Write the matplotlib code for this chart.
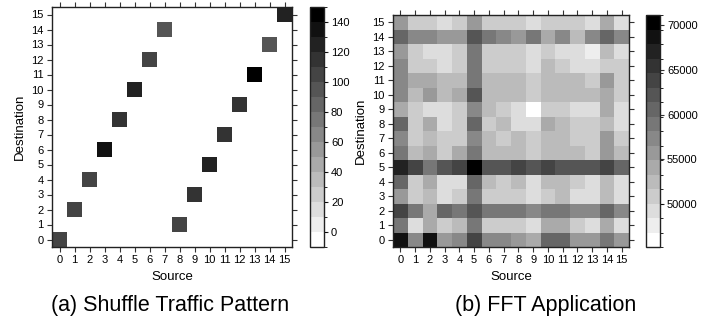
import numpy as np
import matplotlib
matplotlib.use("Agg")
import matplotlib.pyplot as plt
from matplotlib.colors import ListedColormap, BoundaryNorm

plt.rcParams['font.family'] = ['Liberation Sans', 'DejaVu Sans']

# ---------------- data ----------------
nodes = list(range(16))
tick_labels = [str(i) for i in nodes]

# Shuffle traffic: source -> destination and traffic amount
shuffle_src = [0, 1, 2, 3, 4, 5, 6, 7, 8, 9, 10, 11, 12, 13, 14, 15]
shuffle_dst = [0, 2, 4, 6, 8, 10, 12, 14, 1, 3, 5, 7, 9, 11, 13, 15]
shuffle_val = [105, 105, 103, 135, 115, 125, 108, 95, 105, 115, 125, 115, 115, 145, 95, 125]

# FFT application traffic, rows = destination 0..15, columns = source 0..15
fft_rows = [
    [69100, 57600, 69100, 56000, 57600, 63100, 57600, 57600, 56000, 54300, 60800, 60800, 56000, 56000, 59200, 56000],  # dst 0
    [59200, 49500, 54300, 51100, 52700, 59200, 51100, 51100, 51100, 49500, 54300, 54300, 51100, 49500, 54300, 49500],  # dst 1
    [63100, 59200, 54300, 60800, 59200, 62300, 59200, 59200, 59200, 57600, 59200, 59200, 57600, 57600, 60800, 57600],  # dst 2
    [56000, 51100, 52700, 49500, 51100, 59200, 51100, 51100, 51100, 49500, 51100, 52700, 49500, 49500, 52700, 49500],  # dst 3
    [60800, 51100, 54300, 49500, 49500, 60800, 52700, 51100, 52700, 49500, 52700, 52700, 51100, 49500, 52700, 49500],  # dst 4
    [66700, 63100, 59200, 62300, 63100, 70300, 62300, 62300, 63100, 62300, 63100, 62300, 62300, 62300, 63100, 60800],  # dst 5
    [59200, 52700, 54300, 51100, 54300, 59200, 52700, 52700, 52700, 51100, 52700, 52700, 52700, 51100, 56000, 52700],  # dst 6
    [57600, 51100, 52700, 51100, 51100, 57600, 52700, 51100, 52700, 51100, 52700, 52700, 51100, 51100, 56000, 51100],  # dst 7
    [60800, 51100, 54300, 49500, 51100, 60800, 51100, 52700, 49500, 49500, 54300, 52700, 51100, 51100, 52700, 49500],  # dst 8
    [54300, 51100, 49500, 49500, 51100, 57600, 52700, 51100, 49500, 46800, 51100, 51100, 49500, 49500, 54300, 49500],  # dst 9
    [57600, 52700, 56000, 52700, 54300, 62300, 52700, 52700, 52700, 51100, 52700, 52700, 52700, 52700, 54300, 51100],  # dst 10
    [57600, 54300, 54300, 52700, 52700, 59200, 52700, 52700, 52700, 51100, 52700, 52700, 52700, 51100, 56000, 51100],  # dst 11
    [57600, 51100, 51100, 49500, 51100, 59200, 51100, 51100, 51100, 49500, 52700, 51100, 49500, 49500, 51100, 51100],  # dst 12
    [56000, 51100, 49500, 49500, 51100, 59200, 51100, 51100, 51100, 49500, 51100, 49500, 49500, 47900, 52700, 49500],  # dst 13
    [60800, 57600, 57600, 56000, 56000, 62300, 59200, 57600, 56000, 59200, 54300, 57600, 52700, 57600, 60800, 57600],  # dst 14
    [56000, 51100, 51100, 49500, 51100, 56000, 51100, 51100, 51100, 49500, 51100, 51100, 51100, 49500, 54300, 49500],  # dst 15
]

shuffle_cbar_ticks = [0, 20, 40, 60, 80, 100, 120, 140]
fft_cbar_ticks = [50000, 55000, 60000, 65000, 70000]
captions = ["(a) Shuffle Traffic Pattern", "(b) FFT Application"]

# ---------------- build matrices ----------------
shuffle = np.zeros((16, 16))
for s, d, v in zip(shuffle_src, shuffle_dst, shuffle_val):
    shuffle[d, s] = v
fft = np.array(fft_rows, dtype=float)

ncol = 16
cmap = ListedColormap([str(g) for g in np.linspace(1.0, 0.0, ncol)])
bounds_a = np.linspace(-9.8, 149.8, ncol + 1)
bounds_b = np.linspace(45196, 71117, ncol + 1)

W, H = 710, 320
fig = plt.figure(figsize=(W / 100, H / 100), dpi=100)


def px(x0, y0, x1, y1):
    return [x0 / W, 1 - y1 / H, (x1 - x0) / W, (y1 - y0) / H]


def heat(ax_rect, cb_rect, data, bounds, cticks, caption, cap_x):
    ax = fig.add_axes(px(*ax_rect))
    norm = BoundaryNorm(bounds, cmap.N)
    edges = np.arange(17) - 0.5
    m = ax.pcolormesh(edges, edges, data, cmap=cmap, norm=norm)
    ax.set_xlim(-0.5, 15.5)
    ax.set_ylim(-0.5, 15.5)
    ax.set_xticks(nodes)
    ax.set_yticks(nodes)
    ax.set_xticklabels(tick_labels)
    ax.set_yticklabels(tick_labels)
    ax.tick_params(direction='out', top=True, right=True, length=3.5, width=0.8,
                   labelsize=8, pad=2.5, color='#333333')
    for sp in ax.spines.values():
        sp.set_linewidth(1.0)
        sp.set_color('#222222')
    ax.set_xlabel("Source", fontsize=9.5, labelpad=4)
    ax.set_ylabel("Destination", fontsize=9.5, labelpad=4)

    cax = fig.add_axes(px(*cb_rect))
    cb = fig.colorbar(m, cax=cax, boundaries=bounds, ticks=cticks, spacing='proportional')
    cb.outline.set_linewidth(1.0)
    cb.outline.set_edgecolor('#222222')
    cax.tick_params(direction='out', length=3, width=0.8, labelsize=8, pad=2, color='#333333')
    fig.text(cap_x / W, 1 - 305 / H, caption, ha='center', va='center', fontsize=15.5)
    return ax


heat((52, 7, 292, 247), (310, 7, 324, 247), shuffle, bounds_a, shuffle_cbar_ticks,
     captions[0], 170)
heat((393, 15, 629, 247), (646, 15, 660, 247), fft, bounds_b, fft_cbar_ticks,
     captions[1], 546)

fig.savefig("out.png", dpi=100)
